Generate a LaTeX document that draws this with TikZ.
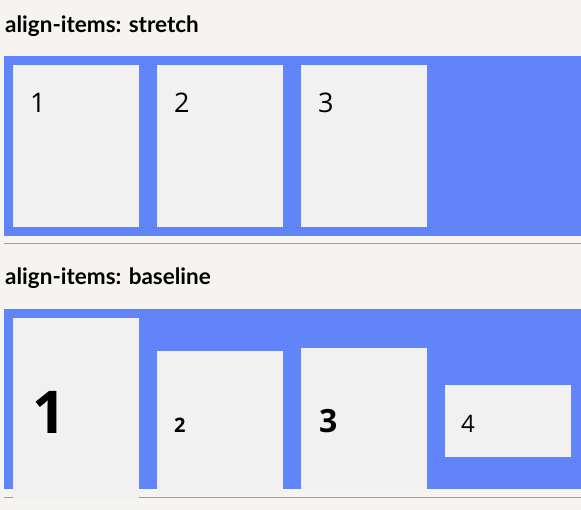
\documentclass[tikz,border=0pt]{standalone}
\usepackage{fontspec}
\setmainfont{Lato}
\newfontfamily\digitfont{Open Sans}
\definecolor{pagebg}{HTML}{F5F4F0}
\definecolor{flexblue}{HTML}{6184F8}
\definecolor{itembg}{HTML}{F1F1F1}
\definecolor{rulegray}{HTML}{A0A0A0}
\tikzset{
  panel/.style={fill=flexblue, draw=none, inner sep=0pt, anchor=north west},
  item/.style={fill=itembg, draw=none, inner sep=0pt, anchor=north west, minimum width=126pt},
  heading/.style={anchor=base west, inner sep=0pt, font=\fontsize{22.5}{24}\selectfont\bfseries},
  lightnum/.style={anchor=base west, inner sep=0pt, font=\digitfont\fontsize{27}{30}\selectfont},
  sep/.style={draw=rulegray, line width=1pt},
}
\begin{document}
\begin{tikzpicture}[x=1pt,y=-1pt]
\fill[pagebg] (0,0) rectangle (581,510);
\useasboundingbox (0,0) rectangle (581,510);
% stretch section
\node[heading] (h1) at (5,33) {align-items: stretch};
\node[panel, minimum width=577pt, minimum height=180pt] (p1) at (4,56) {};
\node[item, minimum height=162pt] (s1) at (13,65) {};
\node[item, minimum height=162pt] (s2) at (157,65) {};
\node[item, minimum height=162pt] (s3) at (301,65) {};
\node[lightnum] (t1) at (30,112.5) {1};
\node[lightnum] (t2) at (174,112.5) {2};
\node[lightnum] (t3) at (318,112.5) {3};
\coordinate (r1a) at (4,244);
\coordinate (r1b) at (581,244);
\draw[sep] (r1a) -- (r1b);
% baseline section
\node[heading] (h2) at (5,285) {align-items: baseline};
\node[panel, minimum width=577pt, minimum height=180pt] (p2) at (4,309) {};
\coordinate (r2a) at (4,497.5);
\coordinate (r2b) at (581,497.5);
\draw[sep] (r2a) -- (r2b);
\node[item, minimum height=181pt] (b1) at (13,318) {};
\node[item, minimum height=145pt] (b2) at (157,351) {};
\node[item, minimum height=141pt] (b3) at (301,348) {};
\node[item, minimum height=72pt] (b4) at (445,385) {};
\node[anchor=base west, inner sep=0pt, font=\digitfont\bfseries\fontsize{59}{62}\selectfont] (n1) at (32,433) {1};
\node[anchor=base west, inner sep=0pt, font=\digitfont\bfseries\fontsize{20}{22}\selectfont] (n2) at (174,432.5) {2};
\node[anchor=base west, inner sep=0pt, font=\digitfont\bfseries\fontsize{32}{34}\selectfont] (n3) at (319,432.5) {3};
\node[anchor=base west, inner sep=0pt, font=\digitfont\fontsize{24}{26}\selectfont] (n4) at (461,432.5) {4};
\end{tikzpicture}
\end{document}
